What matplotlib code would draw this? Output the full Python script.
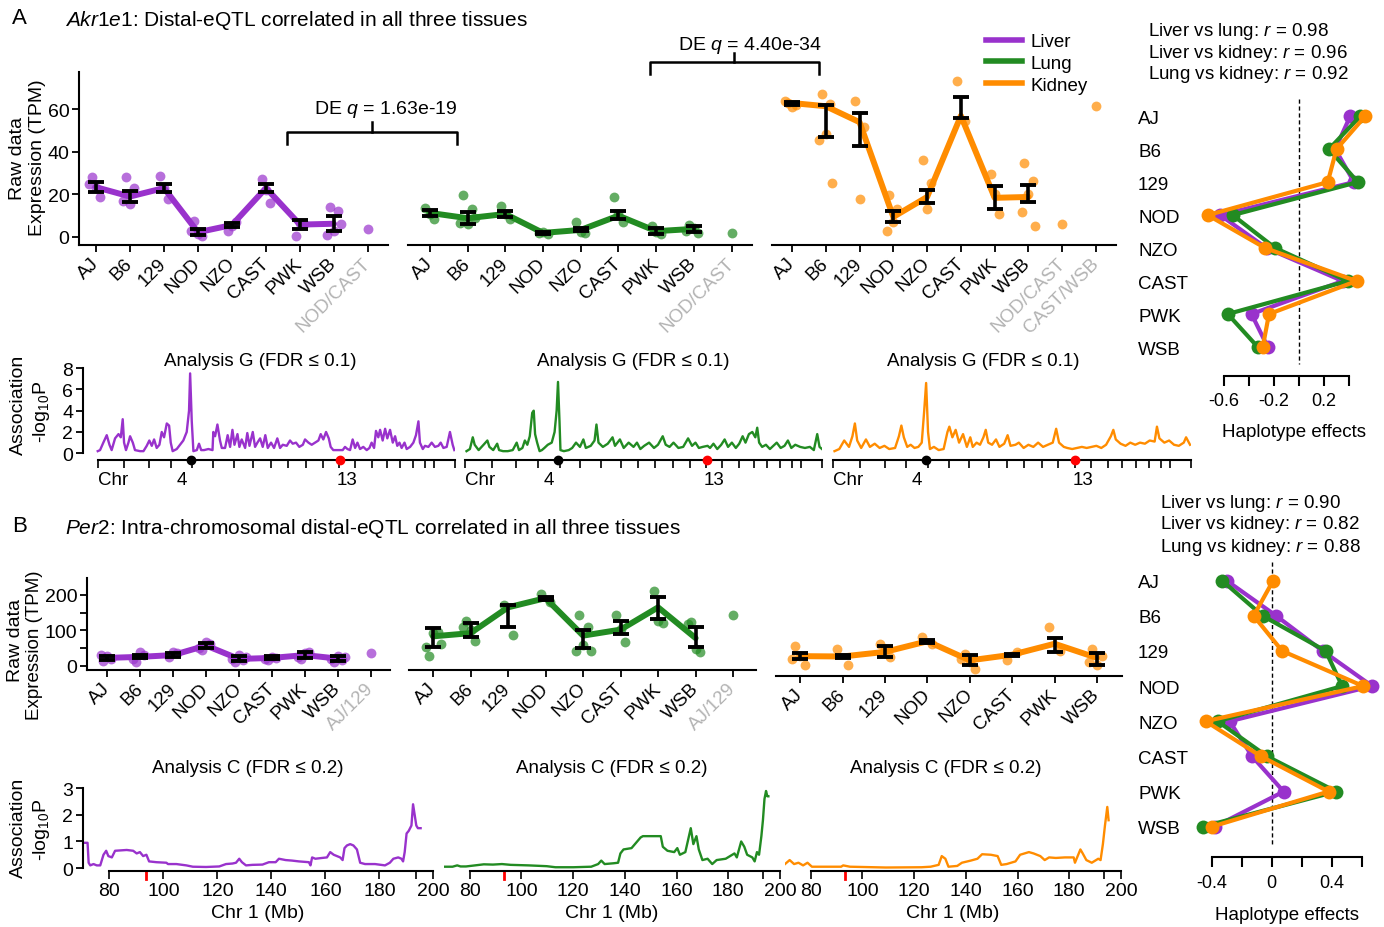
import numpy as np
import matplotlib

matplotlib.use('Agg')
import matplotlib.pyplot as plt
from matplotlib.lines import Line2D

plt.rcParams['font.family'] = ['Liberation Sans', 'DejaVu Sans']
plt.rcParams['mathtext.fontset'] = 'custom'
plt.rcParams['mathtext.rm'] = 'Liberation Sans'
plt.rcParams['mathtext.it'] = 'Liberation Sans:italic'
plt.rcParams['mathtext.default'] = 'regular'

# ---------------- data ----------------
strains = ['AJ', 'B6', '129', 'NOD', 'NZO', 'CAST', 'PWK', 'WSB']
tissues = ['Liver', 'Lung', 'Kidney']
colors = ['#9932CC', '#228B22', '#FF8C00']

# Akr1e1 raw expression (TPM)
liver_a_mean = [23.4, 19, 23, 2.2, 5.6, 23, 5.8, 6.2]
liver_a_lo = [21, 16.5, 21, 0.7, 4.6, 21, 3.8, 3.0]
liver_a_hi = [25.7, 21.5, 25, 3.7, 6.6, 25, 7.8, 9.7]
liver_a_pts = [[28, 18.7, 23, 25], [28, 23, 15.5, 17], [28.9, 17.9, 23], [7.4, 0.5, 1.2, 3.0],
               [3.0, 7.0, 5.0], [27.3, 16, 22], [0.3, 6, 6.5], [14.3, 12, 3, 1, 6]]
liver_a_extra = [3.5]
liver_a_extra_lab = ['NOD/CAST']

lung_a_mean = [11.3, 8.8, 10.8, 1.9, 3.3, 10, 2.7, 3.8]
lung_a_lo = [9.8, 6.1, 9.3, 1.3, 2.6, 8.5, 1.2, 2.3]
lung_a_hi = [12.8, 11.9, 12.3, 2.5, 4.0, 12.4, 4.2, 5.3]
lung_a_pts = [[13.6, 8.5, 11], [19.5, 13.2, 6, 6.5, 9], [14.7, 8.2, 11], [2, 1.5, 2.5],
              [7.2, 2, 2.5], [18.7, 7.2, 11], [5.3, 1.5, 2.5], [5.8, 2, 4, 3]]
lung_a_extra = [2]
lung_a_extra_lab = ['NOD/CAST']

kidney_a_mean = [63, 61.5, 54, 9.4, 18.8, 57, 18.4, 18.8]
kidney_a_lo = [62.3, 47, 43, 7, 16, 56, 13, 16.5]
kidney_a_hi = [63.7, 62, 58.4, 12, 22, 65.7, 24, 24.5]
kidney_a_pts = [[63, 62, 61, 64], [67.3, 62.6, 48.5, 45.6, 25.4], [64, 51.8, 18], [19.5, 13.2, 7, 3],
                [36, 25.4, 13], [73.6, 54.7], [29.6, 10.8, 20], [35, 26.5, 20, 11.7, 5.3]]
kidney_a_extra = [6, 61.8]
kidney_a_extra_lab = ['NOD/CAST', 'CAST/WSB']

# Per2 raw expression (TPM)
liver_b_mean = [22, 25, 30, 57, 19, 22, 30, 20]
liver_b_lo = [17, 21, 25, 51, 12, 18, 21, 14]
liver_b_hi = [27, 29, 35, 63, 26, 26, 39, 26]
liver_b_pts = [[12, 20, 28, 30], [10, 30, 40, 20], [25, 35, 38], [45, 60, 68, 50], [10, 15, 30, 20, 25],
               [15, 22, 25, 20], [20, 40, 35, 25], [10, 15, 28, 20, 25]]
liver_b_extra = [35]
liver_b_extra_lab = ['AJ/129']

lung_b_mean = [83, 92, 165, 191, 85, 102, 165, 78]
lung_b_lo = [52, 80, 109, 187, 49, 90, 132, 52]
lung_b_hi = [106, 121, 172, 195, 101, 125, 195, 110]
lung_b_pts = [[28, 95, 93, 52, 62], [127, 71, 100, 110], [172, 87], [203, 181], [142, 109, 58, 42, 41],
              [142, 66, 105], [212, 120, 127], [123, 38, 47, 118]]
lung_b_extra = [144]
lung_b_extra_lab = ['AJ/129']

kidney_b_mean = [44, 43, 56, 86, 32, 48, 79, 39]
kidney_b_lo = [37, 40, 42, 82, 20, 45, 57, 18]
kidney_b_hi = [54, 46, 72, 90, 46, 51, 95, 53]
kidney_b_pts = [[73, 18, 44, 37], [65, 19], [79, 42, 65], [98, 79], [50, 9, 27, 37], [32, 56],
                [125, 59], [65, 45, 19, 28]]

# haplotype effects
hap_a = [[0.41, 0.29, 0.44, -0.63, -0.26, 0.35, -0.38, -0.25],
         [0.49, 0.24, 0.47, -0.53, -0.19, 0.39, -0.57, -0.33],
         [0.53, 0.30, 0.23, -0.73, -0.27, 0.46, -0.24, -0.29]]
hap_b = [[-0.30, 0.03, 0.34, 0.67, -0.28, -0.13, 0.08, -0.38],
         [-0.33, -0.06, 0.36, 0.47, -0.36, -0.03, 0.43, -0.46],
         [0.01, -0.12, 0.07, 0.61, -0.44, -0.07, 0.38, -0.40]]
corr_a = [0.98, 0.96, 0.92]
corr_b = [0.90, 0.82, 0.88]
corr_pairs = ['Liver vs lung', 'Liver vs kidney', 'Lung vs kidney']

# genome scan (Analysis G): cumulative genome position (Mb), -log10 P
chrom_len = [195, 182, 160, 157, 152, 150, 145, 129, 125, 131, 122, 120, 120, 125, 104, 98, 95, 91, 61, 156]
eqtl_pos_a = 680
gene_pos_a = 1772

liver_g = [(0, 0.2), (17, 0.3), (41, 1.0), (66, 1.7), (86, 0.8), (102, 0.3), (127, 1.4), (152, 1.8),
           (169, 1.5), (183, 3.2), (193, 1.0), (207, 0.3), (225, 1.0), (237, 1.6), (257, 1.0), (273, 0.3),
           (310, 0.2), (335, 0.2), (359, 0.7), (378, 1.2), (396, 0.7), (413, 1.3), (432, 0.5), (452, 0.8),
           (469, 2.0), (486, 1.5), (506, 2.8), (523, 2.6), (535, 1.0), (549, 0.2), (579, 0.4), (603, 0.8),
           (627, 1.2), (652, 2.0), (669, 4.0), (677, 7.5), (689, 3.0), (701, 0.2), (726, 0.3), (742, 0.9),
           (758, 0.3), (779, 0.3), (811, 0.4), (841, 0.3), (847, 2.0), (860, 1.6), (877, 2.7), (896, 1.2),
           (909, 0.5), (933, 0.5), (952, 1.7), (970, 0.6), (987, 2.2), (1002, 0.8), (1024, 1.8), (1038, 0.6),
           (1055, 1.3), (1080, 0.5), (1096, 1.9), (1112, 0.7), (1136, 2.0), (1153, 0.6), (1170, 1.0),
           (1190, 1.4), (1209, 0.6), (1228, 1.7), (1246, 0.5), (1270, 1.0), (1292, 0.5), (1316, 1.4),
           (1336, 0.5), (1356, 0.8), (1385, 0.7), (1409, 1.2), (1429, 0.9), (1453, 1.0), (1477, 0.6),
           (1503, 0.8), (1519, 1.3), (1544, 1.0), (1568, 0.8), (1592, 1.0), (1617, 1.2), (1634, 1.8),
           (1653, 1.3), (1673, 2.0), (1693, 1.4), (1707, 0.6), (1726, 0.3), (1751, 0.3), (1776, 0.3),
           (1795, 0.3), (1812, 0.6), (1830, 0.4), (1849, 0.3), (1868, 1.3), (1886, 0.5), (1903, 1.0),
           (1922, 0.4), (1946, 0.6), (1971, 0.3), (1991, 0.5), (2007, 1.0), (2025, 0.5), (2039, 2.1),
           (2056, 1.5), (2069, 2.2), (2088, 1.2), (2106, 2.3), (2122, 1.4), (2142, 2.2), (2162, 1.0),
           (2179, 1.6), (2195, 0.7), (2211, 1.0), (2227, 0.5), (2248, 1.0), (2264, 0.4), (2289, 0.6),
           (2313, 1.0), (2332, 1.7), (2350, 3.0), (2361, 1.0), (2382, 0.4), (2398, 0.7), (2423, 0.6),
           (2447, 1.0), (2471, 0.6), (2496, 0.7), (2513, 1.0), (2533, 0.5), (2557, 0.6), (2581, 2.0),
           (2601, 0.8), (2613, 0.3)]
lung_g = [(11, 0.2), (36, 0.4), (57, 1.5), (71, 0.8), (100, 0.3), (136, 0.8), (164, 1.2), (179, 0.6),
          (207, 0.3), (236, 0.9), (250, 0.3), (279, 0.2), (314, 0.2), (350, 0.3), (379, 1.0), (396, 0.3),
          (421, 0.5), (439, 1.2), (457, 0.8), (475, 1.6), (493, 3.8), (504, 4.0), (514, 1.8), (529, 1.0),
          (547, 0.2), (564, 0.3), (582, 0.5), (607, 0.8), (636, 1.0), (657, 2.0), (672, 4.0), (682, 6.7),
          (693, 3.0), (700, 0.3), (725, 0.2), (761, 0.3), (786, 0.5), (814, 1.0), (843, 0.6), (868, 1.3),
          (886, 0.5), (922, 0.7), (950, 1.2), (964, 2.7), (979, 1.0), (1011, 0.6), (1047, 0.9), (1082, 1.5),
          (1100, 0.7), (1136, 1.3), (1164, 0.5), (1200, 1.0), (1236, 0.6), (1261, 1.0), (1286, 0.4),
          (1314, 0.7), (1350, 1.0), (1386, 0.5), (1415, 0.8), (1450, 1.6), (1472, 0.8), (1500, 0.6),
          (1529, 1.0), (1565, 0.5), (1600, 0.6), (1636, 1.4), (1665, 0.7), (1690, 1.0), (1715, 0.5),
          (1743, 0.6), (1779, 0.7), (1797, 0.5), (1822, 0.9), (1850, 0.4), (1879, 0.8), (1904, 1.3),
          (1929, 0.6), (1957, 1.0), (1986, 0.5), (2011, 0.9), (2036, 1.6), (2057, 1.0), (2082, 1.8),
          (2107, 2.0), (2129, 1.5), (2143, 2.4), (2157, 1.0), (2179, 0.6), (2207, 0.8), (2236, 0.4),
          (2261, 0.7), (2286, 1.0), (2315, 0.5), (2343, 0.7), (2368, 1.2), (2393, 0.5), (2422, 0.8),
          (2458, 0.6), (2493, 0.5), (2529, 0.6), (2558, 0.3), (2583, 1.8), (2600, 0.6), (2618, 0.4)]
kidney_g = [(11, 0.2), (46, 0.4), (82, 1.2), (117, 0.6), (142, 1.6), (160, 2.8), (177, 1.2), (206, 0.5),
            (241, 1.3), (270, 0.6), (305, 0.9), (341, 0.5), (376, 0.7), (411, 0.4), (454, 0.5), (482, 1.6),
            (500, 2.6), (518, 1.5), (543, 0.6), (568, 0.8), (596, 0.5), (624, 0.6), (649, 1.0), (667, 4.0),
            (681, 6.6), (695, 2.0), (709, 0.4), (738, 0.6), (773, 0.3), (809, 0.4), (837, 2.0), (851, 2.5),
            (873, 1.5), (897, 2.2), (922, 1.0), (951, 1.8), (979, 0.6), (1004, 1.5), (1022, 0.6), (1050, 1.0),
            (1075, 0.8), (1100, 1.5), (1117, 2.2), (1135, 1.0), (1163, 0.8), (1192, 1.3), (1217, 0.6),
            (1252, 0.9), (1277, 1.7), (1298, 0.7), (1334, 0.8), (1359, 1.0), (1394, 0.5), (1429, 0.8),
            (1465, 0.6), (1500, 1.0), (1536, 0.6), (1571, 0.8), (1607, 1.0), (1632, 2.3), (1653, 1.0),
            (1688, 0.6), (1713, 0.5), (1749, 0.4), (1784, 0.5), (1820, 0.6), (1855, 0.5), (1891, 0.6),
            (1926, 0.7), (1962, 0.5), (1997, 0.8), (2032, 1.6), (2050, 2.2), (2068, 1.3), (2103, 0.9),
            (2139, 0.7), (2174, 1.0), (2210, 0.8), (2245, 1.0), (2281, 0.9), (2316, 1.2), (2352, 1.1),
            (2369, 2.5), (2387, 1.4), (2423, 1.0), (2458, 1.2), (2494, 0.8), (2529, 0.7), (2565, 1.0),
            (2582, 1.5), (2611, 0.8)]

# chromosome 1 scan (Analysis C): position (Mb), -log10 P
gene_pos_b = 93.4
liver_c = [(70.2, 0.95), (71.9, 0.95), (72.3, 0.2), (72.9, 0.1), (74.1, 0.15), (75.3, 0.1), (76.6, 0.1),
           (77.2, 0.3), (77.8, 0.5), (78.8, 0.65), (79.6, 0.45), (80.9, 0.4), (82.1, 0.65), (86.4, 0.68),
           (88.8, 0.65), (90.1, 0.55), (91.3, 0.6), (92.5, 0.45), (93.7, 0.5), (94.7, 0.25), (97.4, 0.22),
           (101.1, 0.2), (101.7, 0.15), (104.8, 0.15), (108.5, 0.1), (110.9, 0.05), (115.8, 0.04),
           (120.7, 0.06), (123.2, 0.15), (125.6, 0.17), (126.9, 0.2), (128.1, 0.35), (129.1, 0.22),
           (130.6, 0.1), (133.0, 0.12), (136.7, 0.13), (139.1, 0.22), (141.6, 0.22), (142.8, 0.35),
           (145.3, 0.3), (147.7, 0.28), (150.2, 0.25), (153.9, 0.22), (154.5, 0.1), (155.1, 0.4),
           (156.3, 0.35), (158.8, 0.38), (160.6, 0.4), (161.8, 0.6), (163.1, 0.5), (164.3, 0.45),
           (165.5, 0.4), (166.4, 0.3), (167.1, 0.75), (168.0, 0.85), (169.2, 0.9), (170.4, 0.85),
           (171.7, 0.7), (172.9, 0.2), (174.7, 0.15), (178.4, 0.15), (182.1, 0.1), (183.9, 0.2),
           (185.2, 0.35), (187.0, 0.4), (188.2, 0.35), (188.8, 0.25), (189.4, 0.6), (190.1, 1.3),
           (190.9, 1.4), (191.9, 1.6), (192.5, 2.4), (193.1, 2.0), (193.7, 1.6), (194.3, 1.5), (195.3, 1.5)]
lung_c = [(70.3, 0.05), (73.4, 0.05), (75.2, 0.1), (76.5, 0.06), (78.6, 0.06), (82.1, 0.1), (85.5, 0.14),
          (89.0, 0.13), (92.5, 0.15), (95.9, 0.12), (102.8, 0.1), (109.8, 0.07), (113.2, 0.03), (120.1, 0.03),
          (127.0, 0.05), (129.7, 0.15), (130.9, 0.28), (132.2, 0.15), (135.7, 0.18), (137.4, 0.2),
          (138.3, 0.55), (139.5, 0.7), (142.6, 0.75), (146.1, 1.15), (147.0, 1.2), (149.6, 1.2),
          (153.9, 1.2), (154.7, 0.8), (156.5, 0.65), (159.1, 0.6), (160.3, 0.75), (161.3, 0.5),
          (163.4, 0.6), (165.5, 1.5), (166.5, 0.9), (167.7, 1.2), (168.6, 0.7), (170.0, 0.3),
          (172.0, 0.35), (173.8, 0.15), (175.5, 0.3), (179.0, 0.35), (182.4, 0.55), (183.3, 0.4),
          (185.0, 1.0), (186.2, 0.8), (187.3, 0.5), (189.3, 0.4), (190.2, 0.25), (191.1, 0.6),
          (191.9, 0.5), (192.8, 1.2), (193.4, 1.8), (194.0, 2.6), (194.6, 2.9), (195.1, 2.7), (195.5, 2.7)]
kidney_c = [(70.1, 0.15), (71.9, 0.3), (73.6, 0.15), (75.3, 0.2), (77.1, 0.1), (78.8, 0.2), (80.5, 0.05),
            (84.8, 0.05), (88.3, 0.05), (91.8, 0.05), (92.6, 0.1), (95.2, 0.05), (109.1, 0.02),
            (122.9, 0.03), (126.4, 0.05), (129.5, 0.12), (130.7, 0.45), (132.1, 0.35), (133.3, 0.05),
            (136.7, 0.08), (138.5, 0.2), (141.9, 0.28), (144.5, 0.35), (146.3, 0.52), (149.7, 0.5),
            (152.3, 0.45), (153.7, 0.12), (155.8, 0.15), (159.2, 0.25), (161.0, 0.5), (164.4, 0.6),
            (166.2, 0.55), (168.8, 0.45), (170.5, 0.3), (172.2, 0.4), (174.8, 0.38), (178.3, 0.4),
            (181.7, 0.4), (182.2, 0.2), (184.3, 0.7), (185.2, 0.55), (186.6, 0.3), (188.7, 0.2),
            (191.2, 0.35), (192.1, 0.3), (193.0, 0.9), (193.8, 1.6), (194.7, 2.3), (195.2, 1.8)]

# ---------------- drawing ----------------
W, H = 1384, 928
GRAY = '#B3B3B3'
FS = 13.5      # titles / axis text
TFS = 13.5     # tick labels
JIT = [-0.12, 0.12, 0.0, -0.2, 0.2]

fig = plt.figure(figsize=(W / 100, H / 100), dpi=100)


def box(l, t, r, b):
    return [l / W, 1 - b / H, (r - l) / W, (b - t) / H]


def ftext(x, y, s, **kw):
    kw.setdefault('fontsize', FS)
    fig.text(x / W, 1 - y / H, s, **kw)


def fline(xs, ys, **kw):
    fig.add_artist(Line2D([x / W for x in xs], [1 - y / H for y in ys], transform=fig.transFigure, **kw))


def draw_expr(rect, xlim, ylim, means, lo, hi, pts, extra, extra_lab, color, yticks=None, minor=None):
    ax = fig.add_axes(box(*rect))
    n = len(means)
    x = np.arange(n)
    for i, vals in enumerate(pts):
        offs = np.array([JIT[k % len(JIT)] for k in range(len(vals))])
        ax.scatter(i + offs, vals, s=50, color=color, alpha=0.7, lw=0, zorder=1, clip_on=False)
    for j, v in enumerate(extra):
        ax.scatter(n + j, v, s=50, color=color, alpha=0.7, lw=0, zorder=1, clip_on=False)
    ax.plot(x, means, color=color, lw=4.3, zorder=2, solid_joinstyle='round', solid_capstyle='round')
    ax.errorbar(x, means, yerr=[np.subtract(means, lo), np.subtract(hi, means)], fmt='none', ecolor='black',
                elinewidth=2.6, capsize=5.5, capthick=2.8, zorder=3)
    labels = strains + extra_lab
    ax.set_xticks(range(len(labels)))
    ax.set_xticklabels(labels, rotation=45, ha='right', va='center', rotation_mode='anchor', fontsize=TFS)
    for t in ax.get_xticklabels()[n:]:
        t.set_color(GRAY)
    ax.set_xlim(xlim)
    ax.set_ylim(ylim)
    for s in ['top', 'right']:
        ax.spines[s].set_visible(False)
    ax.spines['bottom'].set_linewidth(1.5)
    ax.tick_params(axis='x', length=5, width=1.3, pad=6)
    if yticks is None:
        ax.spines['left'].set_visible(False)
        ax.set_yticks([])
    else:
        ax.spines['left'].set_linewidth(1.5)
        ax.set_yticks(yticks)
        if minor:
            ax.set_yticks(minor, minor=True)
            ax.tick_params(axis='y', which='minor', length=5, width=1.3)
        ax.tick_params(axis='y', length=5, width=1.3, labelsize=TFS + 0.5, pad=2)
    ax.patch.set_alpha(0)
    return ax


def draw_hap(rect, xlim, ylim, effects, ticks, ticklabels, dash_end):
    ax = fig.add_axes(box(*rect))
    y = np.arange(len(strains))
    ax.plot([0, 0], [ylim[1], dash_end], color='black', lw=1, ls=(0, (3, 2)), zorder=1)
    for vals, c in zip(effects, colors):
        ax.plot(vals, y, '-o', color=c, lw=3, ms=10, mew=0, zorder=2, clip_on=False)
    ax.set_xlim(xlim)
    ax.set_ylim(ylim)
    for s in ['top', 'right', 'left']:
        ax.spines[s].set_visible(False)
    ax.spines['bottom'].set_bounds(ticks[0], ticks[-1])
    ax.spines['bottom'].set_linewidth(1.5)
    ax.set_xticks(ticks)
    ax.set_xticklabels(ticklabels, fontsize=13)
    ax.tick_params(axis='x', length=7, width=1.5, pad=5)
    ax.set_yticks(y)
    ax.set_yticklabels(strains, ha='left', fontsize=13.5)
    ax.tick_params(axis='y', length=0, pad=41)
    ax.patch.set_alpha(0)
    return ax


bounds = np.concatenate([[0], np.cumsum(chrom_len)])
total = bounds[-1]


def draw_g(rect, xlim, pairs, color, show_y):
    ax = fig.add_axes(box(*rect))
    pos, val = zip(*pairs)
    ax.plot(pos, val, color=color, lw=1.7)
    ax.set_xlim(xlim)
    ax.set_ylim(-0.63, 8.1)
    for s in ['top', 'right']:
        ax.spines[s].set_visible(False)
    ax.spines['bottom'].set_bounds(0, total)
    ax.spines['bottom'].set_linewidth(1.5)
    ax.set_xticks(bounds)
    ax.set_xticklabels([])
    ax.tick_params(axis='x', length=6, width=1.2)
    if show_y:
        ax.spines['left'].set_bounds(0, 8)
        ax.spines['left'].set_linewidth(1.5)
        ax.set_yticks([0, 2, 4, 6, 8])
        ax.tick_params(axis='y', length=5, width=1.3, labelsize=TFS + 0.5, pad=2)
    else:
        ax.spines['left'].set_visible(False)
        ax.set_yticks([])
    ax.plot(eqtl_pos_a, -0.63, 'o', color='black', ms=6, clip_on=False, zorder=5)
    ax.plot(gene_pos_a, -0.63, 'o', color='red', ms=6, clip_on=False, zorder=5)
    tr = ax.get_xaxis_transform()
    ax.text(0, -0.21, 'Chr', transform=tr, ha='left', va='center', fontsize=TFS)
    ax.text((bounds[3] + bounds[4]) / 2, -0.21, '4', transform=tr, ha='center', va='center', fontsize=TFS)
    ax.text((bounds[12] + bounds[13]) / 2, -0.21, '13', transform=tr, ha='center', va='center', fontsize=TFS)
    ax.patch.set_alpha(0)
    return ax


def draw_c(rect, pairs, color, show_y):
    ax = fig.add_axes(box(*rect))
    pos, val = zip(*pairs)
    ax.plot(pos, val, color=color, lw=1.7)
    ax.set_xlim(70.1, 200)
    ax.set_ylim(-0.1, 3.05)
    for s in ['top', 'right']:
        ax.spines[s].set_visible(False)
    ax.spines['bottom'].set_bounds(80, 200)
    ax.spines['bottom'].set_linewidth(1.5)
    ax.set_xticks([80, 100, 120, 140, 160, 180, 200])
    ax.set_xticks([193.5], minor=True)
    ax.tick_params(axis='x', which='both', length=6, width=1.2, labelsize=TFS + 0.5, pad=2)
    ax.set_xlabel('Chr 1 (Mb)', fontsize=14, labelpad=4)
    if show_y:
        ax.spines['left'].set_bounds(0, 3)
        ax.spines['left'].set_linewidth(1.5)
        ax.set_yticks([0, 1, 2, 3])
        ax.tick_params(axis='y', length=5, width=1.3, labelsize=TFS + 0.5, pad=2)
    else:
        ax.spines['left'].set_visible(False)
        ax.set_yticks([])
    ax.plot([gene_pos_b, gene_pos_b], [0, -0.1], color='red', lw=2, transform=ax.get_xaxis_transform(),
            clip_on=False)
    ax.patch.set_alpha(0)
    return ax


# ---- panel A ----
ftext(12, 18, 'A', fontsize=16, va='center')
ftext(65, 20, r'$\mathit{Akr1e1}$: Distal-eQTL correlated in all three tissues', fontsize=15, va='center')

draw_expr((79, 73, 388, 246), (-0.5, 8.59), (-3.8, 77.6), liver_a_mean, liver_a_lo, liver_a_hi, liver_a_pts,
          liver_a_extra, liver_a_extra_lab, colors[0], yticks=[0, 20, 40, 60])
draw_expr((408, 73, 752, 246), (-0.58, 8.54), (-3.8, 77.6), lung_a_mean, lung_a_lo, lung_a_hi, lung_a_pts,
          lung_a_extra, lung_a_extra_lab, colors[1])
draw_expr((772, 73, 1116, 246), (-0.59, 9.59), (-3.8, 77.6), kidney_a_mean, kidney_a_lo, kidney_a_hi,
          kidney_a_pts, kidney_a_extra, kidney_a_extra_lab, colors[2])
ftext(18, 158, 'Raw data', rotation=90, ha='center', va='center', fontsize=14)
ftext(38, 158, 'Expression (TPM)', rotation=90, ha='center', va='center', fontsize=14)

# DE brackets
fline([287, 287, 457, 457], [145, 133, 133, 145], color='black', lw=1.8)
fline([372, 372], [133, 123], color='black', lw=1.8)
ftext(386, 110, r'DE $\mathit{q}$ = 1.63e-19', ha='center', va='center', fontsize=14)
fline([650, 650, 819, 819], [75, 63, 63, 75], color='black', lw=1.8)
fline([734, 734], [63, 54], color='black', lw=1.8)
ftext(750, 45, r'DE $\mathit{q}$ = 4.40e-34', ha='center', va='center', fontsize=14)

handles = [Line2D([], [], color=c, lw=4) for c in colors]
fig.legend(handles, tissues, loc='upper left', bbox_to_anchor=(986 / W, 1 - 34 / H), frameon=False,
           fontsize=13.5, handlelength=1.9, handletextpad=0.5, labelspacing=0.25, borderpad=0,
           borderaxespad=0)

draw_hap((1195, 100, 1375, 376.7), (-0.832, 0.608), (7.87, -0.52), hap_a,
         [-0.6, -0.4, -0.2, 0, 0.2, 0.4], ['-0.6', '', '-0.2', '', '0.2', ''], 7.52)
ftext(1294, 433, 'Haplotype effects', ha='center', va='center', fontsize=13.5)
for k, (p, r) in enumerate(zip(corr_pairs, corr_a)):
    ftext(1148, 32 + 21.5 * k, p + r': $\mathit{r}$ = ' + f'{r:.2f}', va='center', fontsize=13.5)

draw_g((83, 368, 455, 461), (-108, total), liver_g, colors[0], True)
draw_g((465, 368, 822, 461), (0, total), lung_g, colors[1], False)
draw_g((833, 368, 1191, 461), (0, total), kidney_g, colors[2], False)
for cx in [260, 633, 983]:
    ftext(cx, 362, 'Analysis G (FDR \u2264 0.1)', ha='center', va='center')
ftext(18, 405, 'Association', rotation=90, ha='center', va='center', fontsize=14)
ftext(41, 412, r'-log$_{10}$P', rotation=90, ha='center', va='center', fontsize=14)

# ---- panel B ----
ftext(12, 527, 'B', fontsize=16, va='center')
ftext(65, 528, r'$\mathit{Per2}$: Intra-chromosomal distal-eQTL correlated in all three tissues', fontsize=15,
      va='center')

draw_expr((87, 579, 390, 671), (-0.61, 8.58), (-12.2, 248), liver_b_mean, liver_b_lo, liver_b_hi, liver_b_pts,
          liver_b_extra, liver_b_extra_lab, colors[0], yticks=[0, 100, 200], minor=[50, 150])
draw_expr((409, 579, 756, 671), (-0.64, 8.61), (-12.2, 248), lung_b_mean, lung_b_lo, lung_b_hi, lung_b_pts,
          lung_b_extra, lung_b_extra_lab, colors[1])
draw_expr((776, 585, 1122, 677), (-0.57, 7.59), (-12.2, 248), kidney_b_mean, kidney_b_lo, kidney_b_hi,
          kidney_b_pts, [], [], colors[2])
ftext(16, 640, 'Raw data', rotation=90, ha='center', va='center', fontsize=14)
ftext(35, 645, 'Expression (TPM)', rotation=90, ha='center', va='center', fontsize=13.5)

draw_hap((1195, 563, 1375, 858.3), (-0.511, 0.689), (7.87, -0.53), hap_b,
         [-0.4, -0.2, 0, 0.2, 0.4, 0.6], ['-0.4', '', '0', '', '0.4', ''], 7.53)
ftext(1287, 916, 'Haplotype effects', ha='center', va='center', fontsize=13.5)
for k, (p, r) in enumerate(zip(corr_pairs, corr_b)):
    ftext(1160, 503 + 22 * k, p + r': $\mathit{r}$ = ' + f'{r:.2f}', va='center', fontsize=13.5)

draw_c((82.7, 788, 433.3, 871.7), liver_c, colors[0], True)
draw_c((444, 788, 780, 871.7), lung_c, colors[1], False)
draw_c((785, 788, 1121, 871.7), kidney_c, colors[2], False)
for cx in [248, 612, 946]:
    ftext(cx, 769, 'Analysis C (FDR \u2264 0.2)', ha='center', va='center')
ftext(18, 828, 'Association', rotation=90, ha='center', va='center', fontsize=14)
ftext(41, 830, r'-log$_{10}$P', rotation=90, ha='center', va='center', fontsize=14)

fig.savefig('out.png', dpi=100)
